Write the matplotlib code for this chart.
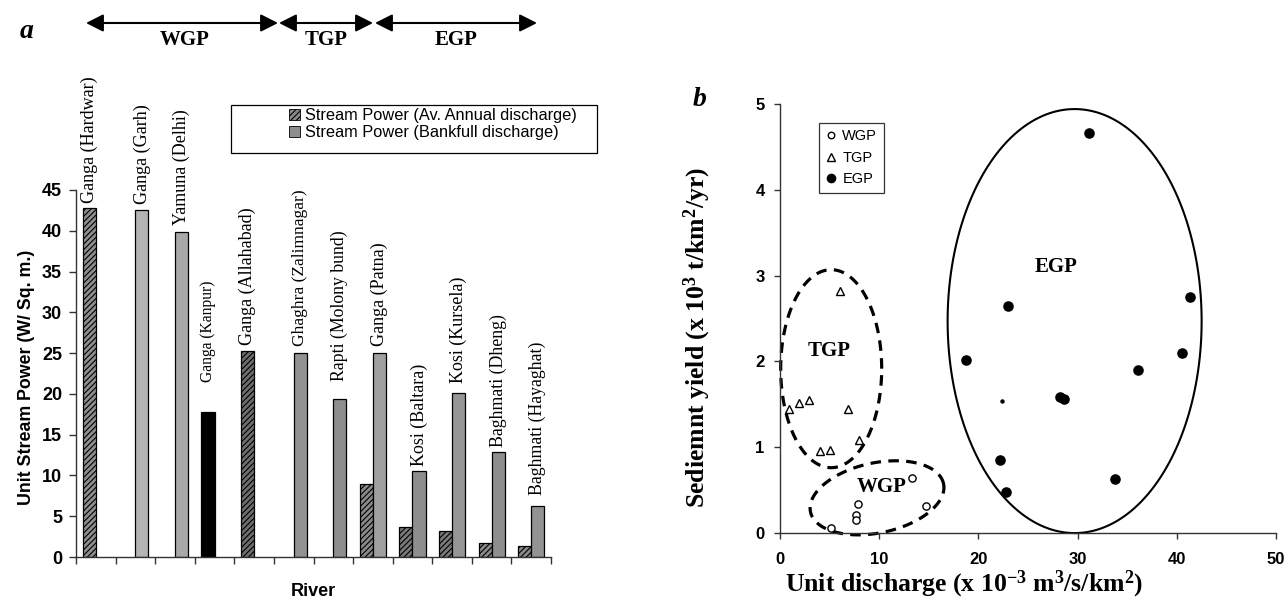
import numpy as np
import matplotlib
matplotlib.use("Agg")
import matplotlib.pyplot as plt
from matplotlib.patches import Patch, Rectangle, Polygon, FancyArrowPatch

# ---------------- data: panel a ----------------
rivers = ["Ganga (Hardwar)", "Ganga (Garh)", "Yamuna (Delhi)", "Ganga (Kanpur)",
          "Ganga (Allahabad)", "Ghaghra (Zalimnagar)", "Rapti (Molony bund)",
          "Ganga (Patna)", "Kosi (Baltara)", "Kosi (Kursela)", "Baghmati (Dheng)",
          "Baghmati (Hayaghat)"]
nan = np.nan
sp_annual = [42.8, nan, nan, 17.8, 25.3, nan, nan, 9.0, 3.7, 3.2, 1.7, 1.35]
sp_bankfull = [nan, 42.6, 39.8, nan, nan, 25.0, 19.4, 25.0, 10.5, 20.1, 12.9, 6.2]
a_yticks = [0, 5, 10, 15, 20, 25, 30, 35, 40, 45]
regions = ["WGP", "TGP", "EGP"]

# ---------------- data: panel b ----------------
wgp_x = [5.1, 7.9, 7.7, 7.7, 13.3, 14.7]
wgp_y = [0.06, 0.34, 0.21, 0.15, 0.64, 0.31]
tgp_x = [0.9, 1.95, 2.95, 6.9, 4.0, 5.0, 8.0, 6.0]
tgp_y = [1.45, 1.51, 1.55, 1.45, 0.96, 0.97, 1.08, 2.82]
egp_x = [18.7, 23.0, 22.2, 22.8, 28.2, 28.6, 31.1, 41.3, 40.5, 36.1, 33.8]
egp_y = [2.02, 2.65, 0.85, 0.48, 1.59, 1.56, 4.66, 2.75, 2.10, 1.90, 0.63]
egp_small_x = [22.4]
egp_small_y = [1.54]
b_xticks = [0, 10, 20, 30, 40, 50]
b_yticks = [0, 1, 2, 3, 4, 5]

# ---------------- styles ----------------
W, H = 1288, 603
SERIF = "Liberation Serif"
SANS = "Liberation Sans"
plt.rcParams["hatch.linewidth"] = 0.8
plt.rcParams["mathtext.fontset"] = "custom"
plt.rcParams["mathtext.rm"] = "Liberation Serif:bold"
plt.rcParams["mathtext.bf"] = "Liberation Serif:bold"
plt.rcParams["mathtext.it"] = "Liberation Serif:bold:italic"

annual_colors = ["#8e8e8e", None, None, "#000000", "#6e6e6e", None, None,
                 "#8a8a8a", "#7a7a7a", "#7a7a7a", "#8a8a8a", "#8a8a8a"]
annual_hatch = ["//////", None, None, None, "//////", None, None,
                "//////", "//////", "//////", "//////", "//////"]
bank_colors = [None, "#b4b4b4", "#a8a8a8", None, None, "#929292", "#8e8e8e",
               "#a0a0a0", "#8e8e8e", "#969696", "#8e8e8e", "#939393"]
label_gap = [0.6, 0.7, 0.85, 3.7, 0.75, 0.85, 2.2, 0.85, 0.6, 1.2, 0.6, 1.35]
label_size = [13, 13, 13, 11.2, 13, 12.6, 12.8, 13, 13, 13, 12.8, 12.8]

fig = plt.figure(figsize=(W / 100, H / 100), dpi=100)

# ================= panel a =================
ax1 = fig.add_axes([76 / W, 1 - 557 / H, (551 - 76) / W, (557 - 190) / H])
x = np.arange(len(rivers))
bw = 0.33
for i in range(len(rivers)):
    if not np.isnan(sp_annual[i]):
        ax1.bar(x[i] - bw / 2, sp_annual[i], bw, color=annual_colors[i],
                edgecolor="black", linewidth=0.9, hatch=annual_hatch[i])
    if not np.isnan(sp_bankfull[i]):
        ax1.bar(x[i] + bw / 2, sp_bankfull[i], bw, color=bank_colors[i],
                edgecolor="black", linewidth=0.9)
    a = -1 if np.isnan(sp_annual[i]) else sp_annual[i]
    b = -1 if np.isnan(sp_bankfull[i]) else sp_bankfull[i]
    if a >= b:
        lx, ly = x[i] - bw / 2, a
    else:
        lx, ly = x[i] + bw / 2, b
    ax1.text(lx, ly + label_gap[i], rivers[i], rotation=90, ha="center",
             va="bottom", fontsize=label_size[i], family=SERIF)

ax1.set_xlim(-0.5, len(rivers) - 0.5)
ax1.set_ylim(0, 45)
ax1.set_yticks(a_yticks)
ax1.set_xticks(np.arange(len(rivers) + 1) - 0.5)
ax1.set_xticklabels([])
for s in ["top", "right"]:
    ax1.spines[s].set_visible(False)
for s in ["left", "bottom"]:
    ax1.spines[s].set_color("#333333")
    ax1.spines[s].set_linewidth(1.0)
ax1.tick_params(axis="both", direction="out", length=5, width=1, color="#333333")
ax1.tick_params(axis="y", pad=5)
for t in ax1.get_yticklabels():
    t.set_fontfamily(SANS)
    t.set_fontweight("bold")
    t.set_fontsize(13)
ax1.set_ylabel("Unit Stream Power (W/ Sq. m.)", family=SANS, fontweight="bold",
               fontsize=12.8)
ax1.yaxis.set_label_coords(-0.086, 0.489)
ax1.set_xlabel("River", family=SANS, fontweight="bold", fontsize=13)
ax1.xaxis.set_label_coords(0.499, -0.07)

# legend a
fig.add_artist(Rectangle((231 / W, 1 - 153 / H), (597 - 231) / W, 48 / H,
                         transform=fig.transFigure, facecolor="white",
                         edgecolor="black", linewidth=0.9))
leg_handles = [Patch(facecolor="#8a8a8a", edgecolor="black", hatch="//////", linewidth=0.6),
               Patch(facecolor="#8e8e8e", edgecolor="black", linewidth=0.6)]
fig.legend(leg_handles, ["Stream Power (Av. Annual discharge)",
                         "Stream Power (Bankfull discharge)"],
           loc="upper left", bbox_to_anchor=(289 / W, 1 - 108 / H),
           frameon=False, prop={"family": SANS, "size": 11.8},
           handlelength=0.65, handleheight=0.65, handletextpad=0.3,
           labelspacing=0.12, borderpad=0, borderaxespad=0)

# region arrows (top)
arrow_px = [(86, 278), (279, 373), (375, 537)]
for (x0, x1), name in zip(arrow_px, regions):
    fig.add_artist(FancyArrowPatch(
        (x0 / W, 1 - 23 / H), (x1 / W, 1 - 23 / H), transform=fig.transFigure,
        arrowstyle="<|-|>,head_length=0.75,head_width=0.38", mutation_scale=14,
        color="black", linewidth=1.5, shrinkA=0, shrinkB=0))
    fig.text((x0 + x1) / 2 / W + (3 / W if name == "WGP" else 0), 1 - 40 / H, name,
             ha="center", va="center", family=SERIF, fontweight="bold", fontsize=15)
fig.text(27 / W, 1 - 31 / H, "a", ha="center", va="center", family=SERIF,
         fontweight="bold", style="italic", fontsize=20)

# ================= panel b =================
ax2 = fig.add_axes([780 / W, 1 - 533 / H, 496 / W, 429 / H])
ax2.set_xlim(0, 50)
ax2.set_ylim(0, 5)
ax2.plot(wgp_x, wgp_y, linestyle="none", marker="o", markersize=5.2,
         markerfacecolor="white", markeredgecolor="black", markeredgewidth=1.0,
         label="WGP", clip_on=False)
ax2.plot(tgp_x, tgp_y, linestyle="none", marker="^", markersize=6.2,
         markerfacecolor="white", markeredgecolor="black", markeredgewidth=1.0,
         label="TGP", clip_on=False)
ax2.plot(egp_x, egp_y, linestyle="none", marker="o", markersize=6.6,
         markerfacecolor="black", markeredgecolor="black", label="EGP")
ax2.plot(egp_small_x, egp_small_y, linestyle="none", marker="o", markersize=2.2,
         color="black")

# ellipses drawn in pixel space (center in data units, semi-axes in px)
fig.canvas.draw()
def draw_ellipse(cx, cy, a_px, b_px, ang_deg, **kw):
    t = np.linspace(0, 2 * np.pi, 400, endpoint=False)
    c = ax2.transData.transform((cx, cy))
    th = np.deg2rad(ang_deg)
    px = c[0] + a_px * np.cos(t) * np.cos(th) - b_px * np.sin(t) * np.sin(th)
    py = c[1] + a_px * np.cos(t) * np.sin(th) + b_px * np.sin(t) * np.cos(th)
    d = ax2.transData.inverted().transform(np.column_stack([px, py]))
    ax2.add_patch(Polygon(d, closed=True, fill=False, edgecolor="black",
                          clip_on=False, **kw))

draw_ellipse(29.7, 2.47, 127, 212, 0, linewidth=1.5)
draw_ellipse(5.16, 1.915, 50.5, 99, 0, linewidth=2.3, linestyle=(0, (3.3, 2.3)))
draw_ellipse(9.78, 0.41, 68, 35, 12, linewidth=2.3, linestyle=(0, (3.3, 2.3)))

ax2.text(5.0, 2.12, "TGP", ha="center", va="center", family=SERIF,
         fontweight="bold", fontsize=15)
ax2.text(10.27, 0.54, "WGP", ha="center", va="center", family=SERIF,
         fontweight="bold", fontsize=15)
ax2.text(27.8, 3.1, "EGP", ha="center", va="center", family=SERIF,
         fontweight="bold", fontsize=15)

ax2.set_xticks(b_xticks)
ax2.set_yticks(b_yticks)
for s in ["top", "right"]:
    ax2.spines[s].set_visible(False)
for s in ["left", "bottom"]:
    ax2.spines[s].set_color("#333333")
    ax2.spines[s].set_linewidth(1.0)
ax2.tick_params(axis="both", direction="out", length=4, width=1, color="#333333")
ax2.tick_params(axis="y", pad=7)
ax2.tick_params(axis="x", pad=10)
for t in ax2.get_xticklabels() + ax2.get_yticklabels():
    t.set_fontfamily(SANS)
    t.set_fontweight("bold")
    t.set_fontsize(12)
ax2.set_ylabel(r"Sediemnt yield (x 10$^3$ t/km$^2$/yr)", family=SERIF,
               fontweight="bold", fontsize=18.5)
ax2.yaxis.set_label_coords(-0.135, 0.456)
ax2.set_xlabel(r"Unit discharge (x 10$^{-3}$ m$^3$/s/km$^2$)", family=SERIF,
               fontweight="bold", fontsize=18.5)
ax2.xaxis.set_label_coords(0.371, -0.083)

lg = ax2.legend(loc="upper left", bbox_to_anchor=(0.0786, 0.956), frameon=True,
                fancybox=False, prop={"family": SANS, "size": 10.5},
                handlelength=0.8, handletextpad=0.35, labelspacing=0.5,
                borderpad=0.45, borderaxespad=0, markerscale=0.9)
lg.get_frame().set_edgecolor("black")
lg.get_frame().set_linewidth(0.9)

fig.text(700 / W, 1 - 100 / H, "b", ha="center", va="center", family=SERIF,
         fontweight="bold", style="italic", fontsize=20)

fig.savefig("out.png", dpi=100)
